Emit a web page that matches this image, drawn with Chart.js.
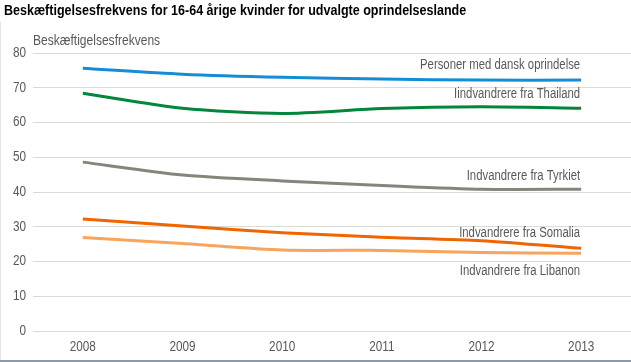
<!DOCTYPE html>
<html>
<head>
<meta charset="utf-8">
<script src="https://cdn.jsdelivr.net/npm/chart.js@4/dist/chart.umd.min.js"></script>
<style>
  html, body { margin: 0; padding: 0; background: #fff; }
  #wrap { position: relative; width: 631px; height: 362px; }
</style>
</head>
<body>
<div id="wrap"><canvas id="c" width="631" height="362"></canvas></div>
<script>
const years = ['2008', '2009', '2010', '2011', '2012', '2013'];
const yTicks = [0, 10, 20, 30, 40, 50, 60, 70, 80];

const seriesNames = [
  'Personer med dansk oprindelse',
  'Iindvandrere fra Thailand',
  'Indvandrere fra Tyrkiet',
  'Indvandrere fra Somalia',
  'Indvandrere fra Libanon'
];
const dansk    = [75.6, 73.9, 73.0, 72.5, 72.2, 72.2];
const thailand = [68.4, 64.1, 62.6, 64.0, 64.5, 64.1];
const tyrkiet  = [48.6, 44.9, 43.2, 41.9, 40.8, 40.8];
const somalia  = [32.2, 30.2, 28.3, 27.0, 26.0, 23.8];
const libanon  = [26.9, 25.2, 23.3, 23.2, 22.6, 22.4];

const chartTitle = 'Beskæftigelsesfrekvens for 16-64 årige kvinder for udvalgte oprindelseslande';
const yAxisTitle = 'Beskæftigelsesfrekvens';

const colors = ['#138ed6', '#00873c', '#87857b', '#ef6500', '#f8a45c'];
const labelDy = [-15, -14, -13, -15, 18];

const SANS = '"Liberation Sans", Arial, sans-serif';
const TEXT_GREY = '#595959';

function narrowText(ctx, txt, x, y, font, sx, align, color) {
  ctx.save();
  ctx.font = font;
  ctx.fillStyle = color;
  ctx.textAlign = align;
  ctx.textBaseline = 'middle';
  ctx.translate(x, y);
  ctx.scale(sx, 1);
  ctx.fillText(txt, 0, 0);
  ctx.restore();
}

const decorPlugin = {
  id: 'decor',
  afterDraw(chart) {
    const ctx = chart.ctx;
    const xs = chart.scales.x, ys = chart.scales.y;
    // title
    ctx.save();
    ctx.fillStyle = '#000';
    ctx.font = 'bold 15px ' + SANS;
    ctx.textBaseline = 'alphabetic';
    ctx.textAlign = 'left';
    ctx.translate(4, 15);
    ctx.scale(0.835, 1);
    ctx.fillText(chartTitle, 0, 0);
    ctx.restore();
    // y axis title
    narrowText(ctx, yAxisTitle, 33, 41, '14px ' + SANS, 0.86, 'left', TEXT_GREY);
    // y tick labels
    yTicks.forEach(v => {
      narrowText(ctx, String(v), 26, ys.getPixelForValue(v), '14px ' + SANS, 0.84, 'right', TEXT_GREY);
    });
    // x tick labels
    years.forEach((y, i) => {
      narrowText(ctx, y, xs.getPixelForValue(i), 347, '14px ' + SANS, 0.84, 'center', TEXT_GREY);
    });
    // series labels
    chart.data.datasets.forEach((ds, i) => {
      const meta = chart.getDatasetMeta(i);
      const pt = meta.data[meta.data.length - 1];
      narrowText(ctx, ds.label, pt.x - 1, pt.y + labelDy[i], '14px ' + SANS, 0.81, 'right', TEXT_GREY);
    });
    // frame
    ctx.save();
    ctx.fillStyle = '#8a9aa8';
    ctx.fillRect(0, 360, 631, 2);
    ctx.fillStyle = '#e4e4e4';
    ctx.fillRect(0, 22, 1, 338);
    ctx.restore();
  }
};

const dataSeries = [dansk, thailand, tyrkiet, somalia, libanon];

new Chart(document.getElementById('c'), {
  type: 'line',
  data: {
    labels: years,
    datasets: dataSeries.map((d, i) => ({
      label: seriesNames[i],
      data: d,
      borderColor: colors[i],
      backgroundColor: colors[i],
      borderWidth: 3,
      pointRadius: 0,
      tension: 0.25,
      fill: false
    }))
  },
  options: {
    responsive: false,
    animation: false,
    devicePixelRatio: 1,
    layout: { padding: { top: 53, right: 0, left: 0, bottom: 0 } },
    plugins: {
      legend: { display: false },
      title: { display: false },
      tooltip: { enabled: false }
    },
    scales: {
      x: {
        offset: true,
        grid: { display: false, drawTicks: false },
        border: { display: false },
        ticks: { display: false },
        afterFit(scale) { scale.height = 31; }
      },
      y: {
        min: 0,
        max: 80,
        afterBuildTicks(scale) { scale.ticks = yTicks.map(v => ({ value: v })); },
        grid: { color: '#dcdcd6', lineWidth: 1, drawTicks: false },
        border: { display: false },
        ticks: { display: false },
        afterFit(scale) { scale.width = 33; }
      }
    }
  },
  plugins: [decorPlugin]
});
</script>
</body>
</html>
